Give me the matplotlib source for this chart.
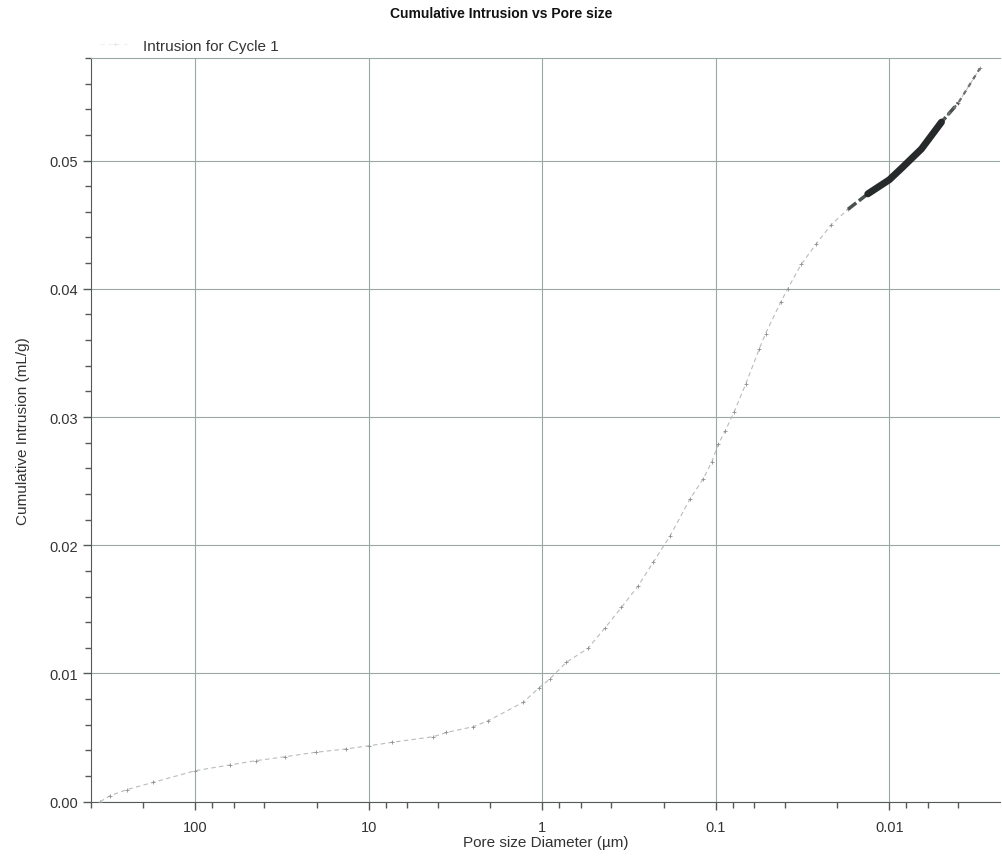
import numpy as np
import matplotlib
matplotlib.use('Agg')
import matplotlib.pyplot as plt
from matplotlib.ticker import FixedLocator, FixedFormatter, MultipleLocator, NullFormatter

plt.rcParams['font.family'] = ['Liberation Sans', 'DejaVu Sans']

# pore diameter (um) and cumulative intrusion (mL/g)
diameter = [354, 310, 249, 175, 100, 63.6, 44.8, 30.3, 20.3, 13.6, 10.0, 7.35,
            4.25, 3.57, 2.5, 2.06, 1.29, 1.04, 0.908, 0.727, 0.546, 0.436, 0.350,
            0.280, 0.230, 0.184, 0.141, 0.118, 0.1055, 0.0966, 0.0884, 0.0784,
            0.0671, 0.0562, 0.0517, 0.0421, 0.0385, 0.0322, 0.0264, 0.0216,
            0.0173, 0.0133, 0.0100, 0.0085, 0.00653, 0.0050, 0.0040, 0.0030]
intrusion = [0.0000, 0.00047, 0.00094, 0.00151, 0.00242, 0.00286, 0.00320,
             0.00351, 0.00385, 0.00411, 0.00436, 0.00463, 0.00507, 0.00540,
             0.00585, 0.00630, 0.00775, 0.00890, 0.00956, 0.01087, 0.01196,
             0.01354, 0.01515, 0.01684, 0.01866, 0.0207, 0.0236, 0.0252, 0.0265,
             0.0279, 0.0289, 0.0304, 0.0326, 0.0353, 0.0365, 0.0390, 0.0400,
             0.0419, 0.0435, 0.0450, 0.0462, 0.0474, 0.0485, 0.0494, 0.0509,
             0.0530, 0.0545, 0.0572]

xticks = [100, 10, 1, 0.1, 0.01]
xtick_labels = ['100', '10', '1', '0.1', '0.01']
minor_x = [m * 10.0 ** e for e in range(-3, 3) for m in (2, 4, 6, 8)]

title = 'Cumulative Intrusion vs Pore size'
series_name = 'Intrusion for Cycle 1'

grid_c = '#9aa8a3'
axis_c = '#555a58'
text_c = '#333333'

fig = plt.figure(figsize=(10.02, 8.62), dpi=100)
ax = fig.add_axes([0.0908, 0.0688, 0.9072, 0.8628])

d = np.array(diameter)
v = np.array(intrusion)
ax.plot(d, v, color='#b8bcbb', lw=0.8, ls=(0, (4, 3)), marker='+', ms=3,
        mew=0.6, mec='#8a908e', label=series_name, zorder=3)
# dense, overlapping points at the fine end
mid = (d <= 0.018) & (d >= 0.004)
ax.plot(d[mid], v[mid], color='#4a5050', lw=2.5, ls=(0, (3, 1)), zorder=4)
dense = (d <= 0.014) & (d >= 0.0048)
ax.plot(d[dense], v[dense], color='#262a2a', lw=5, solid_capstyle='round', zorder=5)
tail = d <= 0.0050
ax.plot(d[tail], v[tail], color='#6a7070', lw=1.6, ls=(0, (2, 2)), zorder=4)

ax.set_xscale('log')
ax.set_xlim(400, 0.0023)
ax.set_ylim(0, 0.058)

ax.xaxis.set_major_locator(FixedLocator(xticks))
ax.xaxis.set_major_formatter(FixedFormatter(xtick_labels))
ax.xaxis.set_minor_locator(FixedLocator(minor_x))
ax.xaxis.set_minor_formatter(NullFormatter())
ax.yaxis.set_major_locator(MultipleLocator(0.01))
ax.yaxis.set_minor_locator(MultipleLocator(0.002))
ax.yaxis.set_major_formatter(plt.FuncFormatter(lambda y, p: '%.2f' % y))

ax.grid(True, which='major', color=grid_c, lw=0.8)
ax.set_axisbelow(True)
ax.tick_params(which='major', length=6, width=1, color=axis_c, labelcolor=text_c,
               labelsize=10.5, pad=3)
ax.tick_params(which='minor', length=4, width=1, color=axis_c)
ax.tick_params(axis='x', pad=7)

for s in ['left', 'bottom']:
    ax.spines[s].set_color(axis_c)
ax.spines['top'].set_color(grid_c)
ax.spines['right'].set_visible(False)

ax.set_xlabel('Pore size Diameter (µm)', fontsize=11, color=text_c, labelpad=1)
ax.set_ylabel('Cumulative Intrusion (mL/g)', fontsize=11, color=text_c, labelpad=14)
fig.text(0.5, 0.984, title, ha='center', va='center', fontsize=10,
         fontweight='bold', color='#111111')

leg = ax.legend(loc='lower left', bbox_to_anchor=(0.0, 0.995), frameon=False,
                fontsize=11, handlelength=2.0, borderaxespad=0.2)
for t in leg.get_texts():
    t.set_color(text_c)
for h in leg.legend_handles:
    h.set_alpha(0.2)

fig.savefig('out.png', dpi=100)
